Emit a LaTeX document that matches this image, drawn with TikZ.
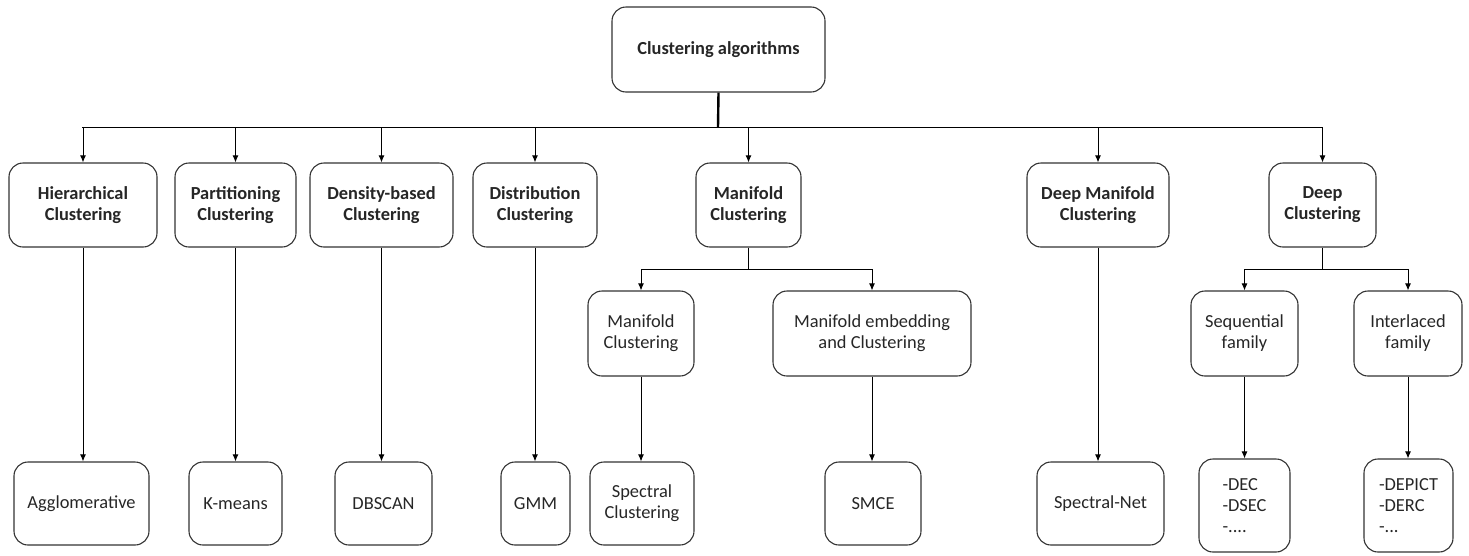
\documentclass[tikz,border=0pt]{standalone}
\usepackage{fontspec}
\setmainfont{Carlito}
\usetikzlibrary{arrows.meta}
\tikzset{
  box/.style={draw=black!80, line width=1.1pt, rounded corners=14pt, align=center, inner sep=2pt,
    font=\fontsize{18.4}{21}\selectfont, text=black!85},
  boldbox/.style={box, font=\fontsize{18.4}{21}\selectfont\bfseries},
  conn/.style={draw=black, line width=1pt},
  arr/.style={conn, -{Latex[length=7pt,width=6pt]}},
}
\begin{document}
\begin{tikzpicture}[x=1pt,y=-1pt]
\useasboundingbox (0,0) rectangle (1469,555);
% root
\node[boldbox, minimum width=213pt, minimum height=85pt] (root) at (718.5,49.5) {Clustering algorithms};
% level 1
\node[boldbox, minimum width=148pt, minimum height=84pt] (hc) at (83,205) {Hierarchical\\Clustering};
\node[boldbox, minimum width=121pt, minimum height=84pt] (pc) at (235.5,205) {Partitioning\\Clustering};
\node[boldbox, minimum width=143pt, minimum height=84pt] (dbc) at (381.5,205) {Density-based\\Clustering};
\node[boldbox, minimum width=124pt, minimum height=84pt] (dic) at (535,205) {Distribution\\Clustering};
\node[boldbox, minimum width=105pt, minimum height=84pt] (mc) at (748.5,205) {Manifold\\Clustering};
\node[boldbox, minimum width=142pt, minimum height=84pt] (dmc) at (1098,205) {Deep Manifold\\Clustering};
\node[boldbox, minimum width=107pt, minimum height=84pt] (dc) at (1322.5,205) {Deep\\Clustering};
% level 2
\node[box, minimum width=106pt, minimum height=85pt] (mca) at (641,333.5) {Manifold\\Clustering};
\node[box, minimum width=198pt, minimum height=85pt] (mcb) at (872,333.5) {Manifold embedding\\and Clustering};
\node[box, minimum width=107pt, minimum height=85pt] (sf) at (1244.5,333.5) {Sequential\\family};
\node[box, minimum width=108pt, minimum height=85pt] (if) at (1408,333.5) {Interlaced\\family};
% leaves
\node[box, minimum width=135pt, minimum height=83pt] (agg) at (81.5,503.5) {Agglomerative};
\node[box, minimum width=93pt, minimum height=83pt] (km) at (235.5,503.5) {K-means};
\node[box, minimum width=97pt, minimum height=83pt] (dbs) at (383.5,503.5) {DBSCAN};
\node[box, minimum width=69pt, minimum height=83pt] (gmm) at (535.5,503.5) {GMM};
\node[box, minimum width=104pt, minimum height=83pt] (spc) at (642,503.5) {Spectral\\Clustering};
\node[box, minimum width=96pt, minimum height=83pt] (smce) at (873,503.5) {SMCE};
\node[box, minimum width=127pt, minimum height=83pt] (sn) at (1100.5,503.5) {Spectral-Net};
\node[box, minimum width=91pt, minimum height=93pt, align=left] (dec) at (1244.5,505.5) {-DEC\\-DSEC\\-....};
\node[box, minimum width=89pt, minimum height=93pt, align=left] (dep) at (1408.5,505.5) {-DEPICT\\-DERC\\-...};
% bus coordinates
\coordinate (bus) at (718,127);
\coordinate (busL) at (82,127);
\coordinate (busR) at (1322,127);
\draw[conn, line width=2.4pt] (root.south) -- (bus);
\draw[conn] (busL) -- (busR);
\foreach \n in {hc,pc,dbc,dic,mc,dmc,dc} {
  \draw[arr] (\n |- bus) -- (\n.north);
}
% manifold sub-bus
\coordinate (mbus) at (748.5,269);
\draw[conn] (mc.south) -- (mbus);
\draw[conn] (mca |- mbus) -- (mcb |- mbus);
\draw[arr] (mca |- mbus) -- (mca.north);
\draw[arr] (mcb |- mbus) -- (mcb.north);
% deep sub-bus
\coordinate (dbus) at (1322.5,269);
\draw[conn] (dc.south) -- (dbus);
\draw[conn] (sf |- dbus) -- (if |- dbus);
\draw[arr] (sf |- dbus) -- (sf.north);
\draw[arr] (if |- dbus) -- (if.north);
% to leaves
\draw[arr] (hc.south) -- (agg.north -| hc.south);
\draw[arr] (pc.south) -- (km.north);
\draw[arr] (dbc.south) -- (dbs.north -| dbc.south);
\draw[arr] (dic.south) -- (gmm.north -| dic.south);
\draw[arr] (mca.south) -- (spc.north -| mca.south);
\draw[arr] (mcb.south) -- (smce.north -| mcb.south);
\draw[arr] (dmc.south) -- (sn.north -| dmc.south);
\draw[arr] (sf.south) -- (dec.north -| sf.south);
\draw[arr] (if.south) -- (dep.north -| if.south);
\end{tikzpicture}
\end{document}
